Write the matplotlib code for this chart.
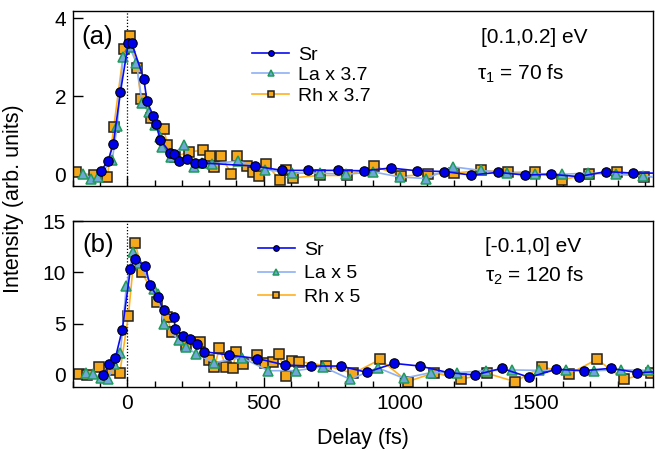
import matplotlib
matplotlib.use("Agg")
import matplotlib.pyplot as plt
from matplotlib.ticker import MultipleLocator

plt.rcParams['font.family'] = ['Liberation Sans', 'DejaVu Sans']
plt.rcParams['mathtext.fontset'] = 'custom'
plt.rcParams['mathtext.rm'] = 'Liberation Sans'
plt.rcParams['mathtext.it'] = 'Liberation Sans'

# ---------------- Panel (a) data: [0.1,0.2] eV ----------------
a_sr_t = [-99, -72, -52, -26, 3, 16, 60, 72, 95, 105, 120, 157, 170, 191, 218, 247, 274,
          468, 568, 663, 772, 867, 967, 1062, 1164, 1261, 1361, 1459, 1557, 1657, 1758, 1855, 1955]
a_sr_i = [0.08, 0.33, 0.77, 2.1, 3.35, 3.35, 2.44, 1.87, 1.48, 1.29, 0.89, 0.55, 0.51, 0.34, 0.38, 0.29, 0.29,
          0.21, 0.10, 0.10, 0.10, 0.09, 0.16, 0.09, 0.07, -0.02, 0.05, -0.02, 0.0, -0.06, 0.07, 0.03, 0.03]

a_la_t = [-162, -133, -108, -56, -38, -16, 8, 33, 54, 78, 100, 121, 127, 160, 206, 243, 275, 310, 407,
          505, 606, 706, 803, 903, 1001, 1098, 1196, 1297, 1395, 1495, 1595, 1693, 1795, 1895, 1995]
a_la_i = [0.02, -0.11, -0.07, 0.36, 1.23, 3.0, 3.25, 2.85, 1.82, 1.6, 1.25, 0.96, 0.7, 0.45, 0.75, 0.19, 0.3, 0.27, 0.34,
          0.12, 0.03, 0.03, 0.0, 0.06, -0.07, -0.11, 0.19, 0.1, 0.03, 0.02, 0.0, 0.03, 0.0, -0.05, -0.08]

a_rh_t = [-190, -123, -74, -50, -13, 9, 35, 50, 88, 133, 147, 175, 225, 279, 304, 318, 345, 382, 401, 438, 460,
          484, 508, 560, 584, 608, 706, 806, 907, 1005, 1103, 1201, 1300, 1396, 1498, 1596, 1696, 1796, 1896, 1995]
a_rh_i = [0.06, -0.03, -0.08, 1.22, 3.2, 3.53, 2.72, 1.92, 1.45, 1.17, 0.75, 0.45, 0.57, 0.62, 0.46, 0.19, 0.47, 0.0, 0.46, 0.21, 0.06,
          -0.05, 0.27, -0.14, 0.12, -0.09, -0.03, -0.03, 0.21, -0.05, 0.0, 0.03, 0.1, 0.05, 0.06, -0.14, 0.0, 0.06, -0.07, -0.07]

# ---------------- Panel (b) data: [-0.1,0] eV ----------------
b_sr_t = [-90, -66, -44, -19, 11, 26, 66, 82, 111, 133, 170, 176, 204, 228, 255, 282, 374,
          477, 578, 675, 783, 879, 979, 1074, 1179, 1277, 1374, 1476, 1574, 1675, 1775, 1873, 1970]
b_sr_i = [0.0, 1.04, 1.7, 4.43, 10.35, 11.3, 10.6, 8.75, 7.6, 6.3, 5.6, 4.5, 3.8, 3.55, 3.0, 2.27, 1.94,
          1.6, 0.97, 0.87, 0.87, 0.26, 1.13, 0.87, 0.23, 0.0, 0.65, -0.23, 0.55, 0.42, 0.65, 0.23, 0.35]

b_la_t = [-154, -126, -96, -72, -48, -26, -4, 21, 41, 99, 111, 133, 188, 216, 252, 318, 419,
          517, 618, 718, 818, 919, 1014, 1114, 1212, 1316, 1413, 1512, 1612, 1712, 1812, 1912, 2010]
b_la_i = [0.23, 0.1, -0.32, -0.42, 1.07, 2.1, 8.7, 11.97, 10.9, 8.4, 7.9, 5.0, 3.4, 2.75, 2.04, 1.2, 1.7,
          0.42, 0.42, 0.8, -0.42, 0.71, -0.32, 0.23, 0.23, 0.42, 0.49, 0.45, 0.45, 0.42, 0.5, 0.45, 0.2]

b_rh_t = [-178, -147, -105, -56, -28, 3, 29, 54, 109, 145, 163, 216, 267, 300, 319, 338, 362, 387, 399, 423, 477,
          505, 533, 557, 582, 606, 630, 730, 830, 928, 1029, 1127, 1224, 1321, 1423, 1523, 1623, 1724, 1824, 1921]
b_rh_i = [0.1, 0.0, 0.8, 0.5, 0.23, 5.7, 12.85, 10.0, 7.1, 5.6, 4.2, 2.9, 3.2, 1.46, 0.8, 2.6, 0.8, 0.65, 2.26, 1.07, 1.94,
          1.2, 1.3, 2.0, -0.06, 1.36, 1.3, 0.9, 0.16, 1.52, -0.65, 0.23, -0.42, 0.16, -0.65, 0.8, 0.1, 1.52, -0.42, 0.23]

panels = [
    dict(sr=(a_sr_t, a_sr_i), la=(a_la_t, a_la_i), rh=(a_rh_t, a_rh_i),
         lab=['Sr', 'La x 3.7', 'Rh x 3.7'], tag='(a)', ylim=(-0.3, 4.18), yticks=[0, 2, 4],
         rng='[0.1,0.2] eV', tau=r'$\tau_1$ = 70 fs',
         leg_x=0.309, leg_y=0.80, leg_sp=0.15, tag_x=0.015, tag_y=0.851,
         rng_x=0.704, rng_y=0.817, tau_x=0.697, tau_y=0.606),
    dict(sr=(b_sr_t, b_sr_i), la=(b_la_t, b_la_i), rh=(b_rh_t, b_rh_i),
         lab=['Sr', 'La x 5', 'Rh x 5'], tag='(b)', ylim=(-1.17, 15), yticks=[0, 5, 10, 15],
         rng='[-0.1,0] eV', tau=r'$\tau_2$ = 120 fs',
         leg_x=0.319, leg_y=0.88, leg_sp=0.32, tag_x=0.017, tag_y=0.855,
         rng_x=0.71, rng_y=0.815, tau_x=0.71, tau_y=0.634),
]

fig = plt.figure(figsize=(6.55, 4.51), dpi=100)
pos = [[73/655, 1-186/451, 580/655, 175/451],
       [73/655, 1-387/451, 580/655, 166/451]]

SR_C = '#0a0af0'
LA_LINE = '#8fb0f5'
LA_FACE = '#6fa8d8'
LA_EDGE = '#1f9a5a'
RH_LINE = '#ffb020'
RH_FACE = '#f5a81c'

for k, p in enumerate(panels):
    ax = fig.add_axes(pos[k])
    ax.axvline(0, color='black', ls=(0, (1, 1.5)), lw=0.9, zorder=1)
    ax.plot(*p['rh'], color=RH_LINE, lw=1.2, marker='s', ms=6.5, mfc=RH_FACE, mec='#222222',
            mew=1.1, label=p['lab'][2], zorder=2)
    ax.plot(*p['la'], color=LA_LINE, lw=1.2, marker='^', ms=7, mfc=LA_FACE, mec=LA_EDGE,
            mew=1.1, label=p['lab'][1], zorder=3)
    ax.plot(*p['sr'], color=SR_C, lw=1.2, marker='o', ms=6.8, mfc='#0000e8', mec='black',
            mew=0.8, label=p['lab'][0], zorder=4)
    ax.set_xlim(-200, 1930)
    ax.set_ylim(*p['ylim'])
    ax.set_yticks(p['yticks'])
    ax.xaxis.set_major_locator(MultipleLocator(500))
    ax.xaxis.set_minor_locator(MultipleLocator(100))
    ax.tick_params(which='both', direction='in', top=False, right=False, labelsize=15, width=1)
    ax.tick_params(which='major', length=7, pad=5)
    ax.tick_params(which='minor', length=4)
    if k == 0:
        ax.tick_params(axis='x', labelbottom=False)
    for s in ax.spines.values():
        s.set_linewidth(1.0)
    h, l = ax.get_legend_handles_labels()
    order = [2, 1, 0]
    ax.legend([h[i] for i in order], [l[i] for i in order], loc='upper left',
              bbox_to_anchor=(p['leg_x'], p['leg_y']), frameon=False, fontsize=14,
              handlelength=1.9, markerscale=0.6, labelspacing=p['leg_sp'], handletextpad=0.45,
              borderaxespad=0, borderpad=0)
    ax.text(p['tag_x'], p['tag_y'], p['tag'], transform=ax.transAxes, fontsize=18.5,
            va='center', ha='left')
    ax.text(p['rng_x'], p['rng_y'], p['rng'], transform=ax.transAxes, fontsize=15,
            va='baseline', ha='left')
    ax.text(p['tau_x'], p['tau_y'], p['tau'], transform=ax.transAxes, fontsize=15,
            va='baseline', ha='left')
    if k == 1:
        ax.set_xlabel('Delay (fs)', fontsize=15.5, labelpad=11)

fig.text(0.02, 0.56, 'Intensity (arb. units)', rotation=90, fontsize=15.5, ha='center', va='center')
fig.savefig('out.png', dpi=100)
